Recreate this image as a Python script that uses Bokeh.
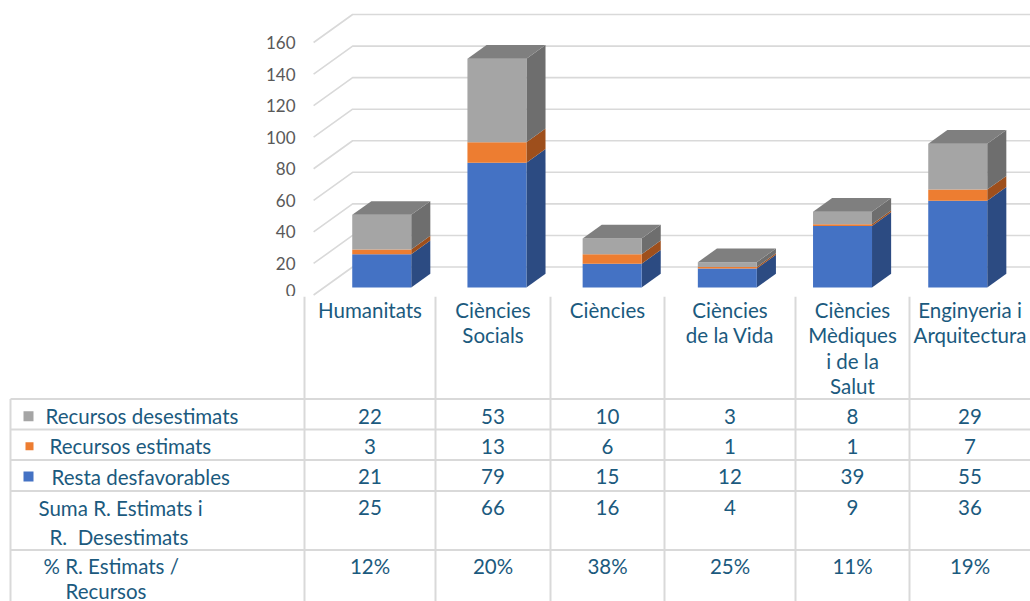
import numpy as np
from bokeh.plotting import figure
from bokeh.models import Range1d, FixedTicker
from bokeh.core.properties import value
from bokeh.embed import file_html
from bokeh.resources import INLINE

# ---------------- data ----------------
categories = ["Humanitats", "Ciències\nSocials", "Ciències", "Ciències\nde la Vida",
              "Ciències\nMèdiques\ni de la\nSalut", "Enginyeria i\nArquitectura"]
series_names = ["Recursos desestimats", "Recursos estimats", "Resta desfavorables"]
desestimats = [22, 53, 10, 3, 8, 29]
estimats = [3, 13, 6, 1, 1, 7]
resta = [21, 79, 15, 12, 39, 55]
suma_label = "Suma R. Estimats i\nR.  Desestimats"
suma = [25, 66, 16, 4, 9, 36]
pct_label = "% R. Estimats /\nRecursos"
pct = ["12%", "20%", "38%", "25%", "11%", "19%"]
y_ticks = [0, 20, 40, 60, 80, 100, 120, 140, 160]

# ---------------- style ----------------
FONT = "Lato"
TXT = "#1B5A7E"
GRID = "#D9D9D9"
FRONT = {"Resta desfavorables": "#4472C4", "Recursos estimats": "#ED7D31", "Recursos desestimats": "#A5A5A5"}
SIDE = {"Resta desfavorables": "#2C4B82", "Recursos estimats": "#9E4F1C", "Recursos desestimats": "#6E6E6E"}
TOP = {"Resta desfavorables": "#3A62A8", "Recursos estimats": "#C8682A", "Recursos desestimats": "#7F7F7F"}

# ---------------- geometry (pixels) ----------------
PAGE_W = 1030
CH_H = 296
TB_H = 305
PX_CAT = 115.2      # pixels per category
PX_VAL = 1.578      # pixels per value unit
DEPTH_PX_X, DEPTH_PX_Y = 39.0, 28.0
FRAME_LEFT = 300
CENTER0 = 370.7 - FRAME_LEFT
ZERO_FROM_BOTTOM = 1.5

x0 = -CENTER0 / PX_CAT
x1 = x0 + (PAGE_W - FRAME_LEFT) / PX_CAT
y0 = -ZERO_FROM_BOTTOM / PX_VAL
y1 = y0 + CH_H / PX_VAL
dxu = DEPTH_PX_X / PX_CAT
dyu = DEPTH_PX_Y / PX_VAL
D_F, D_B = 0.27, 0.76
HALF_W = 0.256

p = figure(width=PAGE_W, height=CH_H, x_range=Range1d(x0, x1), y_range=Range1d(y0, y1),
           output_backend="svg", toolbar_location=None,
           min_border_left=FRAME_LEFT, min_border_right=0, min_border_top=0, min_border_bottom=0,
           x_axis_location=None, y_axis_location="left")
p.outline_line_color = None
p.grid.visible = False
ax = p.yaxis[0]
ax.ticker = FixedTicker(ticks=y_ticks)
ax.axis_line_color = None
ax.major_tick_line_color = None
ax.minor_tick_line_color = None
ax.major_tick_out = 0
ax.major_tick_in = 0
ax.major_label_standoff = 5
ax.major_label_text_font = FONT
ax.major_label_text_font_size = "17px"
ax.major_label_text_color = "#595959"

# walls: side diagonals + back horizontal gridlines
gx, gy = [], []
for v in y_ticks:
    gx.append([-0.5, -0.5 + dxu, x1])
    gy.append([v, v + dyu, v + dyu])
p.multi_line(gx, gy, line_color=GRID, line_width=1.6)

# 3D stacked bars
stack_order = [("Resta desfavorables", resta), ("Recursos estimats", estimats), ("Recursos desestimats", desestimats)]
fx, fy, fc = [], [], []
sx, sy, sc = [], [], []
tx, ty, tc = [], [], []
ddx = (D_B - D_F) * dxu
ddy = (D_B - D_F) * dyu
for i in range(len(categories)):
    base = 0.0
    xl = i - HALF_W + D_F * dxu
    xr = i + HALF_W + D_F * dxu
    top_name = None
    for name, vals in stack_order:
        v = vals[i]
        b = base + D_F * dyu
        t_ = base + v + D_F * dyu
        fx.append([xl, xr, xr, xl]); fy.append([b, b, t_, t_]); fc.append(FRONT[name])
        sx.append([xr, xr + ddx, xr + ddx, xr]); sy.append([b, b + ddy, t_ + ddy, t_]); sc.append(SIDE[name])
        base += v
        if v > 0:
            top_name = name
    T = base + D_F * dyu
    tx.append([xl, xr, xr + ddx, xl + ddx]); ty.append([T, T, T + ddy, T + ddy]); tc.append(TOP[top_name])
p.patches(sx, sy, fill_color=sc, line_color=None)
p.patches(fx, fy, fill_color=fc, line_color=None)
p.patches(tx, ty, fill_color=tc, line_color=None)

# ---------------- data table ----------------
TOP_Y = CH_H
t = figure(width=PAGE_W, height=TB_H, x_range=Range1d(0, PAGE_W), y_range=Range1d(TOP_Y + TB_H, TOP_Y),
           output_backend="svg", toolbar_location=None,
           min_border_left=0, min_border_right=0, min_border_top=0, min_border_bottom=0,
           x_axis_location=None, y_axis_location=None)
t.outline_line_color = None
t.grid.visible = False

col_edges = [304, 435, 550, 664, 795, 909, 1030]
row_edges = [398.5, 429, 459.5, 490.5, 549.5]
t.segment(x0=col_edges[:-1], y0=[TOP_Y] * 6, x1=col_edges[:-1], y1=[610] * 6, line_color=GRID, line_width=2)
t.segment(x0=[10], y0=[row_edges[0]], x1=[10], y1=[610], line_color=GRID, line_width=2)
t.segment(x0=[10] * len(row_edges), y0=row_edges, x1=[1030] * len(row_edges), y1=row_edges,
          line_color=GRID, line_width=2)

centers = [(col_edges[k] + col_edges[k + 1]) / 2 for k in range(6)]
FS = "20.5px"
LINE = 25.5

# header labels
hx, hy, ht = [], [], []
for k, lab in enumerate(categories):
    for j, line in enumerate(lab.split("\n")):
        hx.append(centers[k]); hy.append(309 + LINE * j); ht.append(line)
t.text(hx, hy, ht, text_align="center", text_baseline="middle", text_font=value(FONT),
       text_font_size=FS, text_color=TXT)

# row labels
row_y = [415.7, 445.7, 476, 507, 565.7]
lx = [45, 49, 51]
t.text(lx, row_y[:3], series_names, text_align="left", text_baseline="middle",
       text_font=value(FONT), text_font_size=FS, text_color=TXT)
s1, s2 = suma_label.split("\n")
q1, q2 = pct_label.split("\n")
s2 = s2.replace("  ", " \u00a0")
t.text([38, 49, 43, 65], [507, 536, 565.7, 590], [s1, s2, q1, q2], text_align="left",
       text_baseline="middle", text_font=value(FONT), text_font_size=FS, text_color=TXT)

# legend keys
key_sizes = [10, 8, 10]
key_x = [28, 29, 28]
t.rect(key_x, row_y[:3], width=key_sizes, height=key_sizes,
       fill_color=[FRONT[n] for n in series_names], line_color=None)

# values
vx, vy, vt = [], [], []
for r, vals in enumerate([desestimats, estimats, resta, suma, pct]):
    for k in range(6):
        vx.append(centers[k]); vy.append(row_y[r]); vt.append(str(vals[k]))
t.text(vx, vy, vt, text_align="center", text_baseline="middle", text_font=value(FONT),
       text_font_size=FS, text_color=TXT)

open("out.html", "w").write(file_html([p, t], INLINE))
